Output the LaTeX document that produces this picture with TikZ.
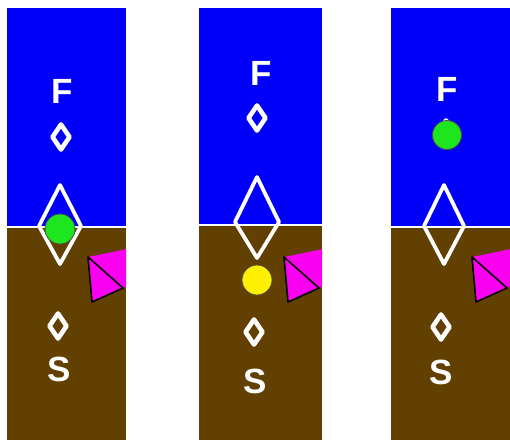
\documentclass[tikz,border=0pt]{standalone}
\usepackage{fontspec}
\setmainfont{Liberation Sans}
\definecolor{skyblue}{RGB}{0,0,250}
\definecolor{soil}{RGB}{98,64,2}
\definecolor{flagpink}{RGB}{250,0,240}
\definecolor{ballgreen}{RGB}{30,230,30}
\definecolor{ballyellow}{RGB}{255,240,0}
\newcommand{\PanelBG}[3]{%
  \fill[skyblue] (#1,8) rectangle (#2,#3);
  \fill[soil] (#1,#3) rectangle (#2,440);
  \draw[white,line width=2.5pt] (#1,#3) -- (#2,#3);
}
\newcommand{\PinkFlag}[1]{%
  \begin{scope}
    \clip (#1-45,240) rectangle (#1,310);
    \fill[flagpink] (#1-38,257) -- (#1+1,249) -- (#1+1,286) -- (#1-3,288) -- (#1-34,302) -- cycle;
    \draw[black,line width=1.6pt,line join=round] (#1-38,257) -- (#1-3,288) -- (#1-34,302) -- cycle;
  \end{scope}
}
\newcommand{\SmallDia}[2]{%
  \draw[markline] (#1,#2-12.5) -- (#1+8.5,#2) -- (#1,#2+12.5) -- (#1-8.5,#2) -- cycle;
}
\begin{document}
\begin{tikzpicture}[x=1pt,y=-1pt,
  markline/.style={white,line width=4.6pt,line join=round},
  bigline/.style={white,line width=3.8pt,line join=round},
  lbl/.style={text=white,inner sep=0pt,font=\fontsize{35}{35}\selectfont\bfseries},
  ball/.style={draw=black!70,line width=0.8pt}]
\useasboundingbox (0,0) rectangle (510,442);
\fill[white] (0,0) rectangle (510,442);

% ---------- panel 1
\PanelBG{7}{126}{227}
\draw[bigline] (60,185) -- (81,226) -- (60,264) -- (39,226) -- cycle;
\fill[ball,fill=ballgreen] (60,229) circle (15);
\SmallDia{61}{137}
\SmallDia{58}{326}
\node[lbl] (F1) at (62,91) {F};
\node[lbl] (S1) at (59,369) {S};
\PinkFlag{126}

% ---------- panel 2
\PanelBG{199}{322}{225}
\draw[bigline] (257,177) -- (279,222) -- (257,258) -- (235,222) -- cycle;
\fill[ball,fill=ballyellow] (257,280) circle (15);
\SmallDia{257}{118}
\SmallDia{254}{332}
\node[lbl] (F2) at (261,73) {F};
\node[lbl] (S2) at (255,381) {S};
\PinkFlag{322}

% ---------- panel 3
\PanelBG{391}{510}{227}
\draw[bigline] (444,185) -- (464,226) -- (444,264) -- (424,226) -- cycle;
\SmallDia{446}{133}
\fill[ball,fill=ballgreen] (447,135) circle (14.5);
\SmallDia{441}{327}
\node[lbl] (F3) at (447,89) {F};
\node[lbl] (S3) at (441,372) {S};
\PinkFlag{510}
\end{tikzpicture}
\end{document}
